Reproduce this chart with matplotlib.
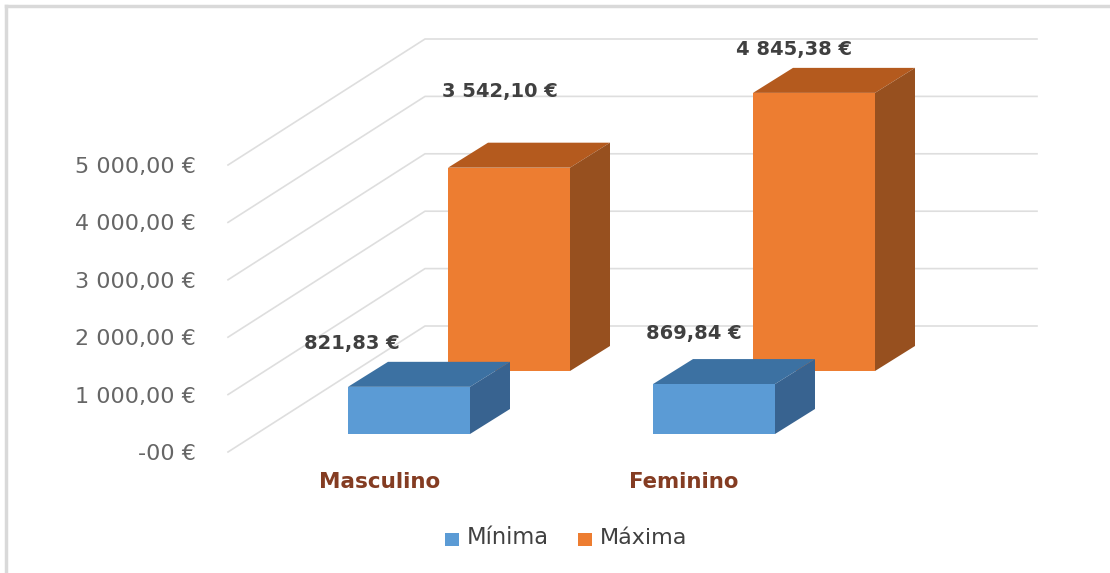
import matplotlib
matplotlib.use("Agg")
import matplotlib.pyplot as plt
from matplotlib.patches import Polygon, Rectangle

categories = ["Masculino", "Feminino"]
minima = [821.83, 869.84]
maxima = [3542.10, 4845.38]
minima_labels = ["821,83 €", "869,84 €"]
maxima_labels = ["3 542,10 €", "4 845,38 €"]
ticks = [0, 1000, 2000, 3000, 4000, 5000]
tick_labels = ["-00 €", "1 000,00 €", "2 000,00 €", "3 000,00 €", "4 000,00 €", "5 000,00 €"]

plt.rcParams["font.family"] = ["DejaVu Sans"]

fig = plt.figure(figsize=(11.10, 5.73), dpi=100)
ax = fig.add_axes([0, 0, 1, 1])
ax.set_xlim(0, 1110)
ax.set_ylim(573, 0)
ax.axis("off")

# scale of the fake 3d chart, in pixels
PX = 57.4 / 1000
FLOOR = 452
DEPTH_X = 197
DEPTH_Y = 126
BAR_W = 122
BAR_DX = 40
BAR_DY = 25


def y_of(v, base):
    return base - v * PX


def box(x, base, v, front, top, side):
    y = y_of(v, base)
    ax.add_patch(Polygon([(x, y), (x + BAR_W, y), (x + BAR_W + BAR_DX, y - BAR_DY), (x + BAR_DX, y - BAR_DY)],
                         facecolor=top, edgecolor="none", zorder=3))
    ax.add_patch(Polygon([(x + BAR_W, y), (x + BAR_W + BAR_DX, y - BAR_DY),
                          (x + BAR_W + BAR_DX, base - BAR_DY), (x + BAR_W, base)],
                         facecolor=side, edgecolor="none", zorder=3))
    ax.add_patch(Rectangle((x, y), BAR_W, base - y, facecolor=front, edgecolor="none", zorder=3))


# frame
ax.plot([6, 6], [573, 6], color="#d9d9d9", lw=2.5, zorder=1)
ax.plot([6, 1110], [6, 6], color="#d9d9d9", lw=2.5, zorder=1)

# grid: floor/side wall then back wall
for t, lab in zip(ticks, tick_labels):
    y = y_of(t, FLOOR)
    ax.plot([228, 228 + DEPTH_X, 1037], [y, y - DEPTH_Y, y - DEPTH_Y], color="#dedede", lw=1.2, zorder=1)
    ax.text(196, y + 2, lab, ha="right", va="center", fontsize=16, color="#666666")

xs_max = [448, 753]
xs_min = [348, 653]
for i in range(2):
    box(xs_max[i], 371, maxima[i], "#ed7d31", "#b45a1e", "#97501f")
for i in range(2):
    box(xs_min[i], 434, minima[i], "#5b9bd5", "#3c71a2", "#386390")

lab_style = dict(ha="center", va="center", fontsize=14, fontweight="bold", color="#404040", zorder=4)
ax.text(500, 92, maxima_labels[0], **lab_style)
ax.text(794, 50, maxima_labels[1], **lab_style)
ax.text(352, 344, minima_labels[0], **lab_style)
ax.text(694, 334, minima_labels[1], **lab_style)

ax.text(380, 482, categories[0], ha="center", va="center", fontsize=15.5, fontweight="bold", color="#843c22")
ax.text(684, 482, categories[1], ha="center", va="center", fontsize=15.3, fontweight="bold", color="#843c22")

# legend
ax.add_patch(Rectangle((445, 533), 14, 13, facecolor="#5b9bd5", edgecolor="none"))
ax.text(467, 538, "Mínima", ha="left", va="center", fontsize=16.3, color="#404040")
ax.add_patch(Rectangle((578, 533), 14, 13, facecolor="#ed7d31", edgecolor="none"))
ax.text(600, 538, "Máxima", ha="left", va="center", fontsize=16, color="#404040")

fig.savefig("out.png", dpi=100)
